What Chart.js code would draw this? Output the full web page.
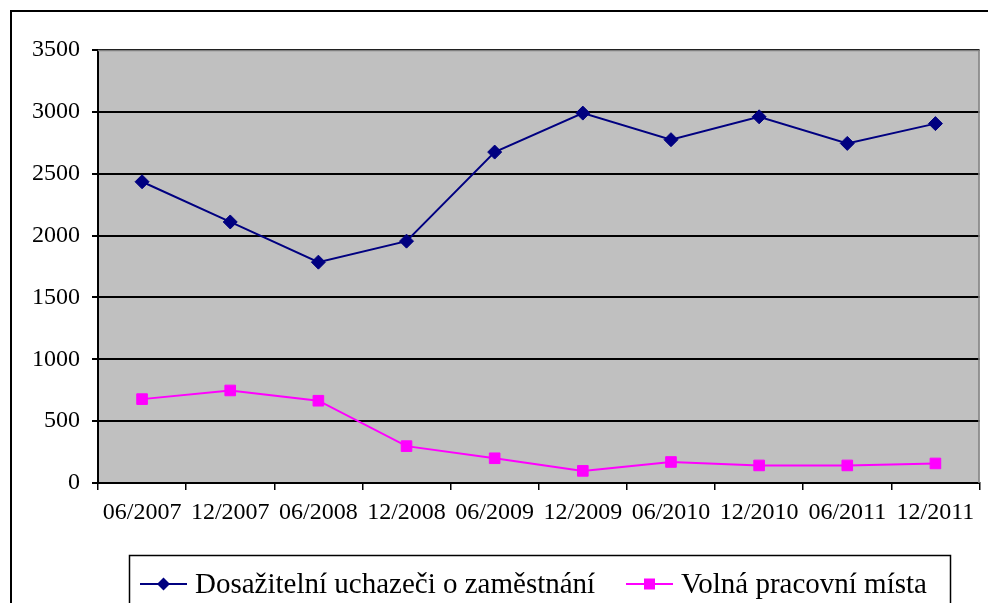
<!DOCTYPE html>
<html>
<head>
<meta charset="utf-8">
<script src="https://cdn.jsdelivr.net/npm/chart.js@4"></script>
<style>
  html, body { margin: 0; padding: 0; background: #fff; }
  #wrap { width: 988px; height: 603px; }
</style>
</head>
<body>
<div id="wrap"><canvas id="myChart" width="988" height="603"></canvas></div>
<script>
// data
const periods = ["06/2007", "12/2007", "06/2008", "12/2008", "06/2009",
                 "12/2009", "06/2010", "12/2010", "06/2011", "12/2011"];
const uchazeci = [2435, 2110, 1785, 1955, 2675, 2990, 2775, 2960, 2745, 2905];
const volnaMista = [678, 748, 665, 298, 200, 98, 170, 142, 142, 158];
const seriesNames = ["Dosažitelní uchazeči o zaměstnání", "Volná pracovní místa"];
const yTicks = [0, 500, 1000, 1500, 2000, 2500, 3000, 3500];

const FONT = '"Liberation Serif", "Times New Roman", serif';
Chart.defaults.font.family = FONT;

// gray plot area + outer frame
const backgroundPlugin = {
  id: 'bg',
  beforeDraw(chart) {
    const ctx = chart.ctx;
    const a = chart.chartArea;
    ctx.save();
    ctx.fillStyle = '#fff';
    ctx.fillRect(0, 0, chart.width, chart.height);
    ctx.fillStyle = '#c0c0c0';
    ctx.fillRect(a.left, a.top, a.right - a.left, a.bottom - a.top);
    ctx.strokeStyle = '#000';
    ctx.lineWidth = 2;
    ctx.strokeRect(11, 11, chart.width + 20, chart.height + 20);
    ctx.restore();
  },
  afterDraw(chart) {
    const ctx = chart.ctx;
    const a = chart.chartArea;
    ctx.save();
    ctx.strokeStyle = '#808080';
    ctx.lineWidth = 1.5;
    ctx.beginPath();
    ctx.moveTo(a.left, a.top + 0.5);
    ctx.lineTo(a.right - 0.5, a.top + 0.5);
    ctx.lineTo(a.right - 0.5, a.bottom);
    ctx.stroke();
    ctx.restore();
  }
};

// legend drawn as a boxed row at the bottom: line + marker + label
const legendPlugin = {
  id: 'boxLegend',
  afterDraw(chart) {
    const ctx = chart.ctx;
    ctx.save();
    ctx.strokeStyle = '#000';
    ctx.lineWidth = 1.5;
    ctx.strokeRect(129.5, 555.5, 821, 80);
    const starts = [140, 626];
    const cy = 584;
    ctx.font = '29px ' + FONT;
    ctx.textBaseline = 'middle';
    chart.data.datasets.forEach(function (ds, i) {
      const x0 = starts[i];
      ctx.strokeStyle = ds.borderColor;
      ctx.lineWidth = 2;
      ctx.beginPath();
      ctx.moveTo(x0, cy);
      ctx.lineTo(x0 + 47, cy);
      ctx.stroke();
      ctx.fillStyle = ds.pointBackgroundColor;
      const mx = x0 + 23.5;
      if (ds.pointStyle === 'rectRot') {
        ctx.beginPath();
        ctx.moveTo(mx, cy - 6.5);
        ctx.lineTo(mx + 6.5, cy);
        ctx.lineTo(mx, cy + 6.5);
        ctx.lineTo(mx - 6.5, cy);
        ctx.closePath();
        ctx.fill();
      } else {
        ctx.fillRect(mx - 5.5, cy - 5.5, 11, 11);
      }
      ctx.fillStyle = '#000';
      ctx.fillText(ds.label, x0 + 55, cy + 1);
    });
    ctx.restore();
  }
};

function drawChart() {
  const ctx = document.getElementById('myChart').getContext('2d');
  const myChart = new Chart(ctx, {
    type: 'line',
    data: {
      labels: periods,
      datasets: [{
        label: seriesNames[0],
        data: uchazeci,
        borderColor: '#000080',
        backgroundColor: '#000080',
        pointBackgroundColor: '#000080',
        pointBorderColor: '#000080',
        pointStyle: 'rectRot',
        pointRadius: 7,
        pointBorderWidth: 1,
        borderWidth: 2,
        tension: 0
      }, {
        label: seriesNames[1],
        data: volnaMista,
        borderColor: '#ff00ff',
        backgroundColor: '#ff00ff',
        pointBackgroundColor: '#ff00ff',
        pointBorderColor: '#ff00ff',
        pointStyle: 'rect',
        pointRadius: 7.5,
        pointBorderWidth: 1,
        borderWidth: 2,
        tension: 0
      }]
    },
    options: {
      responsive: false,
      animation: false,
      layout: { padding: { top: 50, right: 4, left: 0, bottom: 0 } },
      plugins: {
        legend: { display: false },
        tooltip: { enabled: false }
      },
      scales: {
        x: {
          offset: true,
          grid: {
            offset: true,
            drawOnChartArea: false,
            color: '#000',
            lineWidth: 1.5,
            tickLength: 7
          },
          border: { color: '#000', width: 2 },
          ticks: {
            color: '#000',
            font: { family: FONT, size: 24 },
            padding: 8,
            maxRotation: 0,
            autoSkip: false
          },
          afterFit(scale) { scale.height = 120; }
        },
        y: {
          min: 0,
          max: 3500,
          afterBuildTicks(scale) { scale.ticks = yTicks.map(v => ({ value: v })); },
          grid: {
            color: '#000',
            lineWidth: 2,
            tickLength: 6
          },
          border: { color: '#000', width: 2 },
          ticks: {
            color: '#000',
            font: { family: FONT, size: 24 },
            padding: 12,
            callback: function (v) { return String(v); }
          },
          afterFit(scale) { scale.width = 98; }
        }
      }
    },
    plugins: [backgroundPlugin, legendPlugin]
  });
}

// make sure the serif face is ready before the canvas text is drawn
document.fonts.load('24px "Liberation Serif"').then(drawChart, drawChart);
</script>
</body>
</html>
